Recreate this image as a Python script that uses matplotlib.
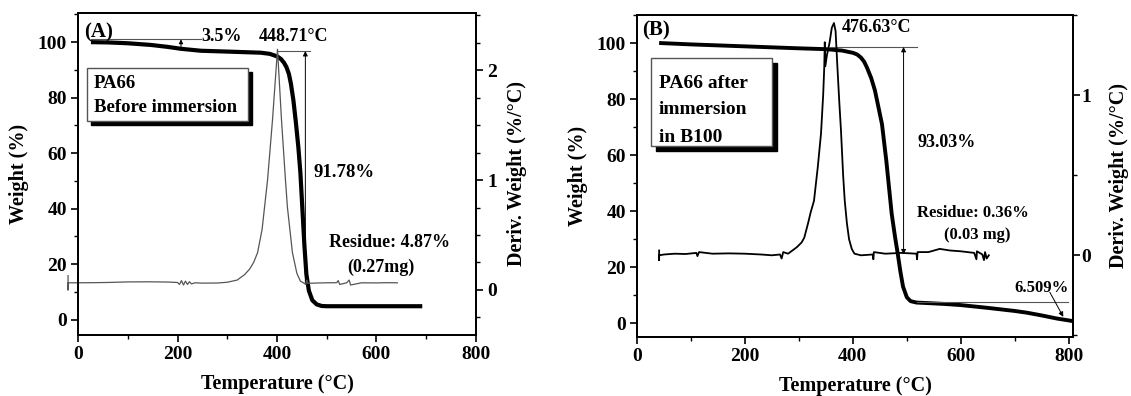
import matplotlib
matplotlib.use("Agg")
import matplotlib.pyplot as plt
from matplotlib.patches import Rectangle
from matplotlib.ticker import MultipleLocator
import matplotlib.transforms as mtransforms

plt.rcParams['font.family'] = ['Liberation Serif', 'DejaVu Serif']
plt.rcParams['font.weight'] = 'bold'
plt.rcParams['axes.labelweight'] = 'bold'

# ---- Panel A: PA66 before immersion ----
tga_a_temp = [26, 60, 100, 146, 180, 207, 247, 300, 367, 385, 395, 402, 408, 414,
              419, 424, 428, 433, 438, 443, 447, 451, 455, 459, 464, 471, 480, 490,
              500, 600, 692]
tga_a_wt = [100, 99.9, 99.6, 99.0, 98.3, 97.6, 96.9, 96.6, 96.2, 95.8, 95.2, 94.7,
            93.9, 92.6, 91.0, 88.5, 85.0, 79.0, 71.0, 62.0, 53.0, 40.0, 27.0, 16.5,
            10.5, 7.0, 5.5, 4.95, 4.87, 4.87, 4.87]

dtg_a_temp = [-20, -20, -20, 0, 30, 60, 100, 140, 180, 200, 204, 208, 212, 216,
              220, 224, 228, 235, 250, 280, 300, 320, 335, 345, 353, 361, 370, 381,
              391, 401, 409, 417, 421, 431, 440, 447, 453, 458, 460, 462, 480, 500,
              520, 523, 526, 540, 545, 548, 570, 600, 620, 642]
dtg_a_val = [0.13, 0.0, 0.065, 0.065, 0.066, 0.068, 0.073, 0.074, 0.072, 0.068,
             0.05, 0.085, 0.045, 0.08, 0.05, 0.075, 0.055, 0.065, 0.062, 0.063,
             0.07, 0.09, 0.14, 0.19, 0.25, 0.34, 0.55, 1.0, 1.55, 2.19, 1.55, 1.0,
             0.75, 0.34, 0.15, 0.08, 0.065, 0.05, 0.09, 0.06, 0.063, 0.065, 0.066,
             0.085, 0.05, 0.065, 0.09, 0.045, 0.065, 0.064, 0.066, 0.065]

# ---- Panel B: PA66 after immersion in B100 ----
tga_b_temp = [41, 100, 200, 300, 350, 380, 400, 408, 415, 421, 426, 434, 441, 447,
              454, 462, 472, 478, 483, 488, 493, 500, 507, 518, 540, 570, 600, 650,
              700, 722, 750, 778, 807]
tga_b_wt = [100, 99.5, 98.8, 98.1, 97.8, 97.3, 96.5, 95.9, 94.8, 93.3, 91.3, 87.5,
            83.0, 77.5, 71.0, 58.0, 39.0, 31.0, 25.0, 18.5, 13.0, 9.2, 7.8, 7.3,
            7.1, 6.8, 6.4, 5.4, 4.3, 3.7, 2.7, 1.6, 0.7]

dtg_b_temp = [41, 41, 41, 50, 70, 90, 110, 112, 115, 140, 170, 200, 230, 250, 265,
              268, 271, 280, 290, 296, 305, 310, 317, 322, 328, 335, 341, 345, 347,
              348, 349, 352, 357, 361, 365, 368, 371, 375, 378, 382, 385, 389, 393,
              398, 403, 415, 437, 438, 439, 460, 490, 518, 519, 520, 540, 561, 580,
              600, 625, 629, 630, 640, 643, 645, 648, 652]
dtg_b_val = [0.03, -0.03, 0.0, 0.005, 0.01, 0.008, 0.015, -0.005, 0.02, 0.01,
             0.012, 0.01, 0.005, 0.0, 0.005, -0.02, 0.02, 0.01, 0.035, 0.05, 0.08,
             0.11, 0.2, 0.27, 0.34, 0.55, 0.76, 1.0, 1.17, 1.33, 1.18, 1.25, 1.33,
             1.42, 1.45, 1.40, 1.2, 0.95, 0.78, 0.5, 0.34, 0.2, 0.1, 0.04, 0.01,
             0.0, 0.005, -0.025, 0.02, 0.01, 0.015, 0.01, -0.025, 0.02, 0.02, 0.04,
             0.03, 0.025, 0.015, -0.025, 0.025, 0.005, -0.03, 0.02, -0.02, 0.0]

FS_TICK = 14
FS_LABEL = 14.5
FS_ANN = 13

fig = plt.figure(figsize=(11.31, 3.96), dpi=100)
axA = fig.add_axes([78 / 1131, 61 / 396, 398 / 1131, 322 / 396])
axB = fig.add_axes([637 / 1131, 59 / 396, 436 / 1131, 322 / 396])
axA2 = axA.twinx()
axB2 = axB.twinx()


def style_axes(ax, ax2, rpad):
    for a in (ax, ax2):
        for s in a.spines.values():
            s.set_linewidth(1.3)
        a.tick_params(which='major', direction='out', length=5, width=1.2,
                      labelsize=FS_TICK, pad=3)
        a.tick_params(which='minor', direction='out', length=3, width=1.0)
    ax.xaxis.set_major_locator(MultipleLocator(200))
    ax.xaxis.set_minor_locator(MultipleLocator(100))
    ax.yaxis.set_major_locator(MultipleLocator(20))
    ax.yaxis.set_minor_locator(MultipleLocator(10))
    ax.set_xlabel('Temperature (°C)', fontsize=FS_LABEL, fontweight='bold',
                  labelpad=8)
    ax.set_ylabel('Weight (%)', fontsize=FS_LABEL, fontweight='bold', labelpad=6)
    ax2.set_ylabel('Deriv. Weight (%/°C)', fontsize=FS_LABEL, fontweight='bold',
                   labelpad=rpad)


def shadow_box(ax, x0, y0, x1, y1, off):
    sh = mtransforms.offset_copy(ax.transData, fig=fig, x=off, y=-off, units='dots')
    ax.add_patch(Rectangle((x0, y0), x1 - x0, y1 - y0, transform=sh,
                           facecolor='black', edgecolor='black', zorder=4))
    ax.add_patch(Rectangle((x0, y0), x1 - x0, y1 - y0, facecolor='white',
                           edgecolor='#555555', linewidth=1.0, zorder=5))


# Panel A
style_axes(axA, axA2, 7)
axA.set_xlim(0, 800)
axA.set_ylim(-5.5, 110.5)
axA2.set_ylim(-0.41, 2.52)
axA2.yaxis.set_major_locator(MultipleLocator(1))
axA2.yaxis.set_minor_locator(MultipleLocator(0.25))

axA2.plot(dtg_a_temp, dtg_a_val, color='#555555', lw=0.9, clip_on=False)
axA.plot(tga_a_temp, tga_a_wt, color='black', lw=3.0, solid_capstyle='butt')

axA.plot([26, 248], [101, 101], color='#555555', lw=0.8)
axA.annotate('', xy=(207, 101), xytext=(207, 97.6),
             arrowprops=dict(arrowstyle='-|>', color='black', lw=0.7,
                             mutation_scale=6, shrinkA=0, shrinkB=0))
axA.plot([401, 467], [96.8, 96.8], color='#555555', lw=0.8)
axA.annotate('', xy=(457, 96.8), xytext=(457, 13),
             arrowprops=dict(arrowstyle='-|>', color='black', lw=0.7,
                             mutation_scale=7, shrinkA=0, shrinkB=0))

axA.text(12, 103.6, '(A)', fontsize=15, fontweight='bold', va='center', ha='left')
axA.text(247, 102, '3.5%', fontsize=FS_ANN, fontweight='bold', va='center', ha='left')
axA.text(363, 102, '448.71°C', fontsize=FS_ANN, fontweight='bold', va='center', ha='left')
axA.text(473, 52.9, '91.78%', fontsize=FS_ANN + 0.5, fontweight='bold', va='center',
         ha='left')
axA.text(626, 27.7, 'Residue: 4.87%', fontsize=FS_ANN, fontweight='bold',
         va='center', ha='center')
axA.text(608, 18.7, '(0.27mg)', fontsize=FS_ANN, fontweight='bold',
         va='center', ha='center')

shadow_box(axA, 18, 71.6, 341, 90.6, 4)
axA.text(31.5, 85.2, 'PA66', fontsize=FS_ANN + 0.5, fontweight='bold', va='center',
         ha='left', zorder=6)
axA.text(31.5, 76.6, 'Before immersion', fontsize=FS_ANN + 0.5, fontweight='bold',
         va='center', ha='left', zorder=6)

# Panel B
style_axes(axB, axB2, 13)
axB.set_xlim(0, 808)
axB.set_ylim(-5, 110)
axB2.set_ylim(-0.51, 1.5)
axB2.yaxis.set_major_locator(MultipleLocator(1))
axB2.yaxis.set_minor_locator(MultipleLocator(0.5))
axB2.tick_params(which='major', pad=1)

axB2.plot(dtg_b_temp, dtg_b_val, color='black', lw=1.3)
axB.plot(tga_b_temp, tga_b_wt, color='black', lw=2.8, solid_capstyle='butt')

axB.plot([357, 518], [98.6, 98.6], color='#555555', lw=0.8)
axB.annotate('', xy=(494, 98.6), xytext=(494, 24.5),
             arrowprops=dict(arrowstyle='<|-|>', color='black', lw=0.7,
                             mutation_scale=7, shrinkA=0, shrinkB=0))
axB.plot([518, 798], [7.5, 7.5], color='#555555', lw=0.8)
axB.annotate('', xy=(790, 2.2), xytext=(765, 11),
             arrowprops=dict(arrowstyle='-|>', color='black', lw=0.7,
                             mutation_scale=7, shrinkA=0, shrinkB=0))

axB.text(9, 104.6, '(B)', fontsize=15, fontweight='bold', va='center', ha='left')
axB.text(380, 105.4, '476.63°C', fontsize=FS_ANN, fontweight='bold', va='center', ha='left')
axB.text(520, 64.3, '93.03%', fontsize=FS_ANN, fontweight='bold', va='center', ha='left')
axB.text(622, 39.3, 'Residue: 0.36%', fontsize=FS_ANN - 1, fontweight='bold',
         va='center', ha='center')
axB.text(630, 31.4, '(0.03 mg)', fontsize=FS_ANN - 1, fontweight='bold',
         va='center', ha='center')
axB.text(750, 12.5, '6.509%', fontsize=FS_ANN - 1, fontweight='bold',
         va='center', ha='center')

shadow_box(axB, 26, 63.2, 250, 94.6, 5)
for txt, yy in (('PA66 after', 85.4), ('immersion', 76.1), ('in B100', 66.4)):
    axB.text(40, yy, txt, fontsize=FS_ANN + 1, fontweight='bold', va='center',
             ha='left', zorder=6)

fig.savefig('out.png', dpi=100)
